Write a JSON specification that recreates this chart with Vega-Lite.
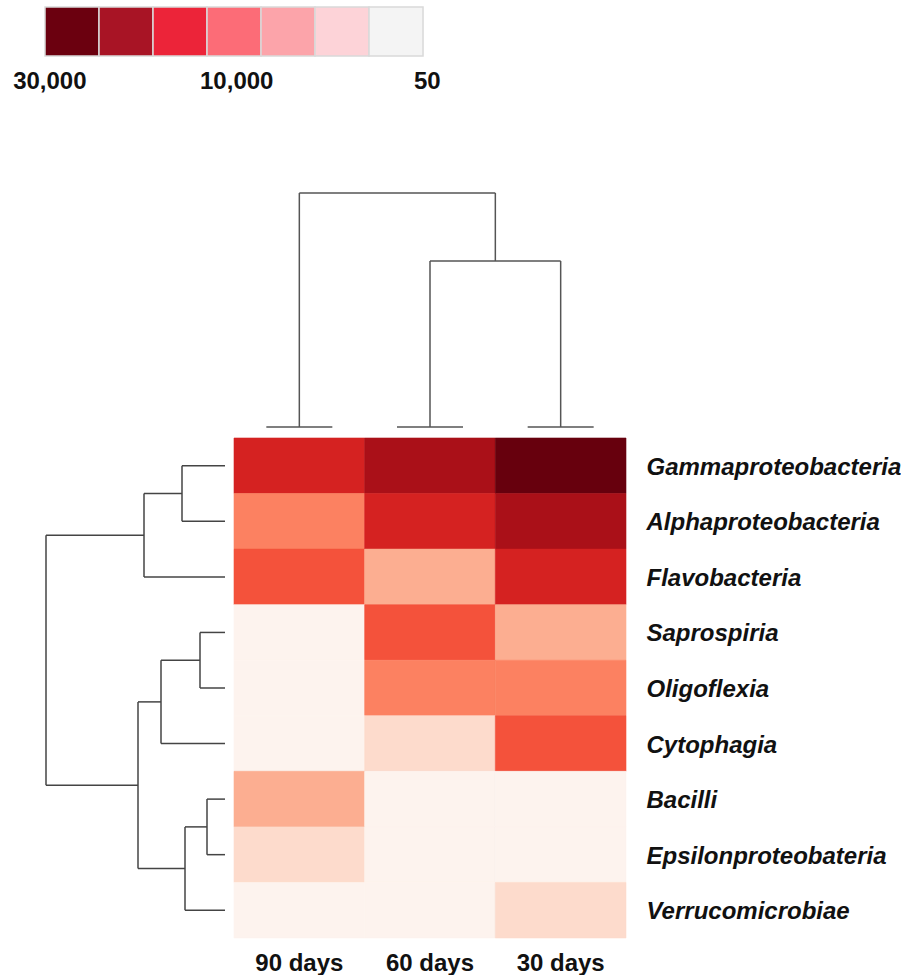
{
  "$schema": "https://vega.github.io/schema/vega-lite/v6.json",
  "padding": 0,
  "spacing": 0,
  "background": "white",
  "config": {"view": {"stroke": null}, "font": "Liberation Sans"},
  "datasets": {
    "swatches": [
      {"level": "a"}, {"level": "b"}, {"level": "c"}, {"level": "d"}, {"level": "e"}, {"level": "f"}, {"level": "g"}
    ],
    "swatchLabels": [
      {"label": "30,000", "level": "a"},
      {"label": "10,000", "level": "d"},
      {"label": "50", "level": "g"}
    ],
    "cells": [
      {"class": "Gammaproteobacteria", "time": "90 days", "count": 16000},
      {"class": "Gammaproteobacteria", "time": "60 days", "count": 22000},
      {"class": "Gammaproteobacteria", "time": "30 days", "count": 30000},
      {"class": "Alphaproteobacteria", "time": "90 days", "count": 8000},
      {"class": "Alphaproteobacteria", "time": "60 days", "count": 16000},
      {"class": "Alphaproteobacteria", "time": "30 days", "count": 22000},
      {"class": "Flavobacteria", "time": "90 days", "count": 11000},
      {"class": "Flavobacteria", "time": "60 days", "count": 5000},
      {"class": "Flavobacteria", "time": "30 days", "count": 16000},
      {"class": "Saprospiria", "time": "90 days", "count": 50},
      {"class": "Saprospiria", "time": "60 days", "count": 11000},
      {"class": "Saprospiria", "time": "30 days", "count": 5000},
      {"class": "Oligoflexia", "time": "90 days", "count": 50},
      {"class": "Oligoflexia", "time": "60 days", "count": 8000},
      {"class": "Oligoflexia", "time": "30 days", "count": 8000},
      {"class": "Cytophagia", "time": "90 days", "count": 50},
      {"class": "Cytophagia", "time": "60 days", "count": 2000},
      {"class": "Cytophagia", "time": "30 days", "count": 11000},
      {"class": "Bacilli", "time": "90 days", "count": 5000},
      {"class": "Bacilli", "time": "60 days", "count": 50},
      {"class": "Bacilli", "time": "30 days", "count": 50},
      {"class": "Epsilonproteobateria", "time": "90 days", "count": 2000},
      {"class": "Epsilonproteobateria", "time": "60 days", "count": 50},
      {"class": "Epsilonproteobateria", "time": "30 days", "count": 50},
      {"class": "Verrucomicrobiae", "time": "90 days", "count": 50},
      {"class": "Verrucomicrobiae", "time": "60 days", "count": 50},
      {"class": "Verrucomicrobiae", "time": "30 days", "count": 2000}
    ],
    "topTree": [
      {"x": 0.5, "x2": 0.5, "h": 0, "h2": 23.4},
      {"x": 1.5, "x2": 1.5, "h": 0, "h2": 16.6},
      {"x": 2.5, "x2": 2.5, "h": 0, "h2": 16.6},
      {"x": 1.5, "x2": 2.5, "h": 16.6, "h2": 16.6},
      {"x": 2.0, "x2": 2.0, "h": 16.6, "h2": 23.4},
      {"x": 0.5, "x2": 2.0, "h": 23.4, "h2": 23.4}
    ],
    "topLeaves": [
      {"x": 0.5, "h": 0}, {"x": 1.5, "h": 0}, {"x": 2.5, "h": 0}
    ],
    "leftTree": [
      {"d": 0, "d2": 4.3, "p": 0.5, "p2": 0.5},
      {"d": 0, "d2": 4.3, "p": 1.5, "p2": 1.5},
      {"d": 4.3, "d2": 8.1, "p": 1.0, "p2": 1.0},
      {"d": 0, "d2": 8.1, "p": 2.5, "p2": 2.5},
      {"d": 8.1, "d2": 17.9, "p": 1.75, "p2": 1.75},
      {"d": 0, "d2": 2.5, "p": 3.5, "p2": 3.5},
      {"d": 0, "d2": 2.5, "p": 4.5, "p2": 4.5},
      {"d": 2.5, "d2": 6.4, "p": 4.0, "p2": 4.0},
      {"d": 0, "d2": 6.4, "p": 5.5, "p2": 5.5},
      {"d": 6.4, "d2": 8.7, "p": 4.75, "p2": 4.75},
      {"d": 0, "d2": 1.8, "p": 6.5, "p2": 6.5},
      {"d": 0, "d2": 1.8, "p": 7.5, "p2": 7.5},
      {"d": 1.8, "d2": 4.0, "p": 7.0, "p2": 7.0},
      {"d": 0, "d2": 4.0, "p": 8.5, "p2": 8.5},
      {"d": 4.0, "d2": 8.7, "p": 7.75, "p2": 7.75},
      {"d": 8.7, "d2": 17.9, "p": 6.25, "p2": 6.25},
      {"d": 4.3, "d2": 4.3, "p": 0.5, "p2": 1.5},
      {"d": 8.1, "d2": 8.1, "p": 1.0, "p2": 2.5},
      {"d": 17.9, "d2": 17.9, "p": 1.75, "p2": 6.25},
      {"d": 2.5, "d2": 2.5, "p": 3.5, "p2": 4.5},
      {"d": 6.4, "d2": 6.4, "p": 4.0, "p2": 5.5},
      {"d": 8.7, "d2": 8.7, "p": 4.75, "p2": 7.75},
      {"d": 1.8, "d2": 1.8, "p": 6.5, "p2": 7.5},
      {"d": 4.0, "d2": 4.0, "p": 7.0, "p2": 8.5}
    ]
  },
  "vconcat": [
    {
      "width": 460,
      "height": 110,
      "layer": [
        {
          "data": {"name": "swatches"},
          "mark": {"type": "rect", "stroke": "#d9d9d9", "strokeWidth": 1.5},
          "encoding": {
            "x": {"field": "level", "type": "ordinal", "scale": {"paddingInner": 0, "paddingOuter": 0.759, "align": 0.549}, "axis": null},
            "y": {"datum": 1, "type": "quantitative", "scale": {"domain": [-1.102, 1.143], "nice": false, "zero": false}, "axis": null},
            "y2": {"datum": 0},
            "color": {
              "field": "level", "type": "nominal",
              "scale": {"domain": ["a", "b", "c", "d", "e", "f", "g"], "range": ["#6b000f", "#a81425", "#ec2439", "#fc6c77", "#fca4aa", "#fdd3d8", "#f4f4f4"]},
              "legend": null
            }
          }
        },
        {
          "data": {"name": "swatchLabels"},
          "transform": [{"filter": "datum.level === 'a'"}],
          "mark": {"type": "text", "fontSize": 24, "fontWeight": "bold", "baseline": "middle", "align": "center", "color": "#111"},
          "encoding": {
            "x": {"field": "level", "type": "ordinal", "bandPosition": 0.09},
            "y": {"datum": -0.53, "type": "quantitative"},
            "text": {"field": "label"}
          }
        },
        {
          "data": {"name": "swatchLabels"},
          "transform": [{"filter": "datum.level === 'd'"}],
          "mark": {"type": "text", "fontSize": 24, "fontWeight": "bold", "baseline": "middle", "align": "center", "color": "#111"},
          "encoding": {
            "x": {"field": "level", "type": "ordinal", "bandPosition": 0.55},
            "y": {"datum": -0.53, "type": "quantitative"},
            "text": {"field": "label"}
          }
        },
        {
          "data": {"name": "swatchLabels"},
          "transform": [{"filter": "datum.level === 'g'"}],
          "mark": {"type": "text", "fontSize": 24, "fontWeight": "bold", "baseline": "middle", "align": "center", "color": "#111"},
          "encoding": {
            "x": {"field": "level", "type": "ordinal", "bandPosition": 1.08},
            "y": {"datum": -0.53, "type": "quantitative"},
            "text": {"field": "label"}
          }
        }
      ]
    },
    {
      "columns": 2,
      "spacing": 0,
      "align": "each",
      "concat": [
        {
          "width": 233,
          "height": 327,
          "data": {"values": [{"k": 1}]},
          "mark": {"type": "point", "opacity": 0},
          "encoding": {}
        },
        {
          "width": 392,
          "height": 327,
          "layer": [
            {
              "data": {"name": "topTree"},
              "mark": {"type": "rule", "color": "#555555", "strokeWidth": 1.5},
              "encoding": {
                "x": {"field": "x", "type": "quantitative", "scale": {"domain": [0, 3], "nice": false, "zero": false}, "axis": null},
                "x2": {"field": "x2"},
                "y": {"field": "h", "type": "quantitative", "scale": {"domain": [-1, 31.7], "nice": false, "zero": false}, "axis": null},
                "y2": {"field": "h2"}
              }
            },
            {
              "data": {"name": "topLeaves"},
              "mark": {"type": "tick", "orient": "horizontal", "size": 66, "thickness": 1.5, "color": "#555555", "opacity": 1},
              "encoding": {
                "x": {"field": "x", "type": "quantitative"},
                "y": {"field": "h", "type": "quantitative"}
              }
            }
          ]
        },
        {
          "width": 233,
          "height": 500,
          "data": {"name": "leftTree"},
          "mark": {"type": "rule", "color": "#444444", "strokeWidth": 1.5},
          "encoding": {
            "x": {"field": "d", "type": "quantitative", "scale": {"domain": [22.5, -0.8], "nice": false, "zero": false}, "axis": null},
            "x2": {"field": "d2"},
            "y": {"field": "p", "type": "quantitative", "scale": {"domain": [0, 9], "reverse": true, "nice": false, "zero": false}, "axis": null},
            "y2": {"field": "p2"}
          }
        },
        {
          "width": 392,
          "height": 500,
          "data": {"name": "cells"},
          "mark": {"type": "rect", "strokeWidth": 0.6},
          "encoding": {
            "x": {
              "field": "time", "type": "nominal",
              "sort": ["90 days", "60 days", "30 days"],
              "scale": {"paddingInner": 0, "paddingOuter": 0},
              "axis": {"orient": "bottom", "title": null, "ticks": false, "domain": false, "labelAngle": 0, "labelFontSize": 24, "labelFontWeight": "bold", "labelColor": "#111111", "labelPadding": 13, "labelLimit": 400}
            },
            "y": {
              "field": "class", "type": "nominal",
              "sort": ["Gammaproteobacteria", "Alphaproteobacteria", "Flavobacteria", "Saprospiria", "Oligoflexia", "Cytophagia", "Bacilli", "Epsilonproteobateria", "Verrucomicrobiae"],
              "scale": {"paddingInner": 0, "paddingOuter": 0},
              "axis": {"orient": "right", "title": null, "ticks": false, "domain": false, "labelFontSize": 24, "labelFontWeight": "bold", "labelFontStyle": "italic", "labelColor": "#111111", "labelPadding": 20, "labelLimit": 400, "labelOffset": 2}
            },
            "color": {
              "field": "count", "type": "quantitative",
              "scale": {"type": "threshold", "domain": [1000, 4000, 7000, 9500, 13000, 19000, 26000], "range": ["#fdf3ee", "#fddbcc", "#fcae91", "#fc8161", "#f4523b", "#d52221", "#aa1018", "#67000d"]},
              "legend": null
            },
            "stroke": {
              "field": "count", "type": "quantitative",
              "scale": {"type": "threshold", "domain": [1000, 4000, 7000, 9500, 13000, 19000, 26000], "range": ["#fdf3ee", "#fddbcc", "#fcae91", "#fc8161", "#f4523b", "#d52221", "#aa1018", "#67000d"]},
              "legend": null
            }
          }
        }
      ]
    }
  ]
}
